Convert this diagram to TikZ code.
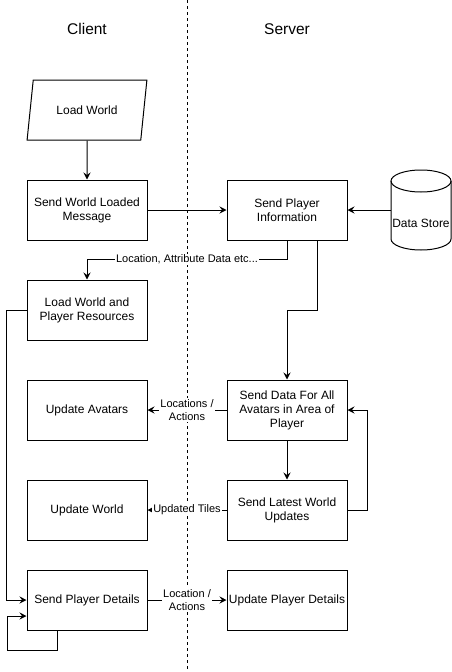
\documentclass[tikz,border=0pt]{standalone}
\usepackage{fontspec}
\setmainfont{Liberation Sans}
\usetikzlibrary{arrows.meta,shapes.geometric}

\begin{document}
\begin{tikzpicture}[x=1pt,y=-1pt,
  box/.style={draw, line width=1pt, minimum width=120pt, minimum height=60pt, align=center, inner sep=1pt, font=\fontsize{12}{14}\selectfont},
  flow/.style={line width=1pt, -{Stealth[length=7pt,width=7pt,inset=2.5pt]}},
  lbl/.style={fill=white, inner sep=1pt, align=center, font=\fontsize{11}{13}\selectfont},
  head/.style={font=\fontsize{15.5}{18}\selectfont}]
\useasboundingbox (0,0) rectangle (452,672);
\draw[line width=1pt, dash pattern=on 3pt off 3pt] (187,0) -- (187,670);
\node[head] (client) at (87,29) {Client};
\node[head] (server) at (287,29) {Server};
\node[box, trapezium, trapezium left angle=71.57, trapezium right angle=108.43, trapezium stretches=true] (load) at (87,110) {Load World};
\node[box] (sentmsg) at (87,210) {Send World Loaded\\Message};
\node[box] (info) at (287,210) {Send Player\\Information};
\node[minimum width=60pt, minimum height=80pt, inner sep=0pt] (store) at (421,210) {};
\draw[line width=1pt] (391,181) -- (391,239) arc[start angle=180, end angle=0, x radius=30, y radius=11] -- (451,181);
\draw[line width=1pt] (421,181) ellipse[x radius=30, y radius=11];
\node[font=\fontsize{12}{14}\selectfont] (storetext) at (421,223) {Data Store};
\node[box] (loadres) at (87,310) {Load World and\\Player Resources};
\node[box] (updavatars) at (87,410) {Update Avatars};
\node[box] (areadata) at (287,410) {Send Data For All\\Avatars in Area of\\Player};
\node[box] (updworld) at (87,510) {Update World};
\node[box] (latest) at (287,510) {Send Latest World\\Updates};
\node[box] (sendpd) at (87,600) {Send Player Details};
\node[box] (updpd) at (287,600) {Update Player Details};
\draw[flow] (load) -- (sentmsg);
\draw[flow] (sentmsg) -- (info);
\draw[flow] (store) -- (info);
\draw[flow] (info.south) -- ++(0,19) -| node[lbl, pos=0.25] {Location, Attribute Data etc...} (loadres.north);
\draw[flow] ([xshift=30pt]info.south) -- ++(0,70) -| (areadata.north);
\draw[flow] (areadata) -- node[lbl] {Locations /\\Actions} (updavatars);
\draw[flow] (areadata) -- (latest);
\draw[flow] (latest) -- node[lbl] {Updated Tiles} (updworld);
\draw[flow] (latest.east) -- ++(20,0) |- (areadata.east);
\draw[flow] (loadres.west) -- ++(-20,0) |- (sendpd.west);
\draw[flow] ([xshift=-30pt]sendpd.south) -- ++(0,20) -- ++(-50,0) |- ([yshift=-16pt]sendpd.west);
\draw[flow] (sendpd) -- node[lbl] {Location /\\Actions} (updpd);
\end{tikzpicture}
\end{document}
